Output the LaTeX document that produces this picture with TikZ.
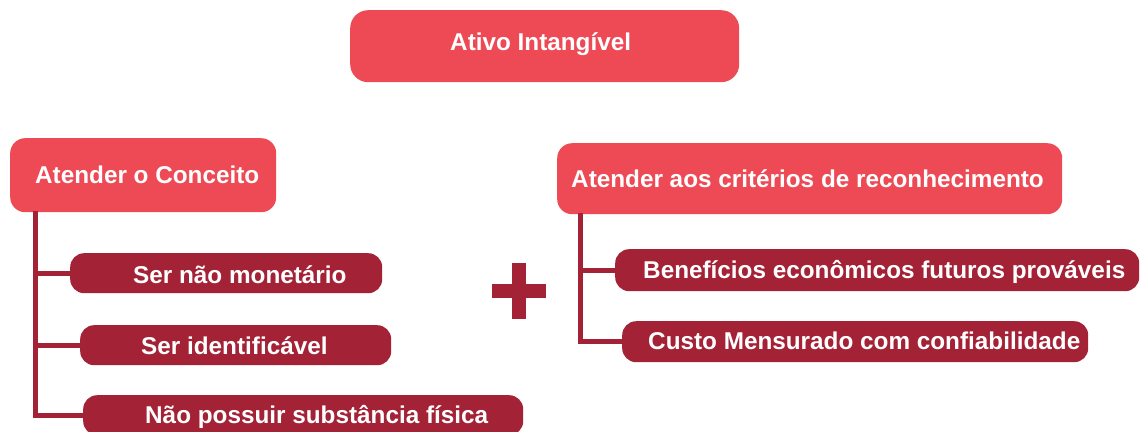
\documentclass[tikz,border=0pt]{standalone}
\usepackage{fontspec}
\setmainfont{Liberation Sans}
\definecolor{lightred}{RGB}{238,74,85}
\definecolor{darkred}{RGB}{163,34,54}
\begin{document}
\begin{tikzpicture}[x=1pt,y=-1pt,
  box/.style={fill=#1,rounded corners=15pt,inner sep=0pt,anchor=north west},
  hdr/.style={box=lightred},
  item/.style={box=darkred,rounded corners=14pt},
  txt/.style={text=white,font=\bfseries\fontsize{24.3}{29}\selectfont,inner sep=0pt,anchor=base west},
  conn/.style={draw=darkred,line width=5pt}]
\useasboundingbox (0,0) rectangle (1140,431);
% boxes
\node[hdr,rounded corners=18pt,minimum width=389pt,minimum height=72pt] (top) at (350,10) {};
\node[hdr,minimum width=266pt,minimum height=74pt] (hl) at (10,138) {};
\node[hdr,minimum width=505pt,minimum height=71pt] (hr) at (557,143) {};
\node[item,minimum width=312pt,minimum height=40pt] (l1) at (70,253) {};
\node[item,minimum width=311pt,minimum height=40pt] (l2) at (80,325) {};
\node[item,minimum width=440pt,minimum height=40pt] (l3) at (83,395) {};
\node[item,minimum width=524pt,minimum height=42pt] (r1) at (615,249) {};
\node[item,minimum width=466pt,minimum height=41pt] (r2) at (622,321) {};
% connectors
\coordinate (tl) at (35,211);
\coordinate (tr) at (580,213);
\draw[conn] (tl) |- (l1.west);
\draw[conn] (tl) |- (l2.west);
\draw[conn] (tl) |- (l3.west);
\draw[conn] (tr) |- (r1.west);
\draw[conn] (tr) |- (r2.west);
% texts
\node[txt] (ttop) at (450,50) {Ativo Intangível};
\node[txt] (thl) at (35,183) {Atender o Conceito};
\node[txt] (thr) at (571,187) {Atender aos critérios de reconhecimento};
\node[txt] (tl1) at (133,283) {Ser não monetário};
\node[txt] (tl2) at (141,354) {Ser identificável};
\node[txt] (tl3) at (145,423) {Não possuir substância física};
\node[txt] (tr1) at (643,278) {Benefícios econômicos futuros prováveis};
\node[txt] (tr2) at (648,349) {Custo Mensurado com confiabilidade};
% plus sign
\fill[darkred] (511.5,263) rectangle (525.5,319);
\fill[darkred] (492,283.5) rectangle (546,297.5);
\end{tikzpicture}
\end{document}
